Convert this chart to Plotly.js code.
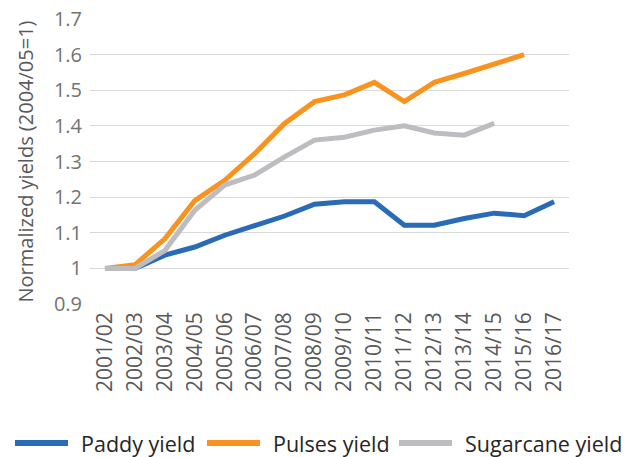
<!DOCTYPE html>
<html><head><meta charset="utf-8">
<script src="https://cdn.plot.ly/plotly-3.0.1.min.js"></script>
<style>body{margin:0;background:#fff}#c{width:631px;height:457px}</style>
</head><body><div id="c"></div>
<script>
const years = ["2001/02","2002/03","2003/04","2004/05","2005/06","2006/07","2007/08","2008/09","2009/10","2010/11","2011/12","2012/13","2013/14","2014/15","2015/16","2016/17"];
const paddy = [1.0,1.0,1.037,1.06,1.093,1.121,1.147,1.18,1.187,1.187,1.121,1.121,1.14,1.155,1.148,1.187];
const pulses = [1.0,1.01,1.083,1.19,1.247,1.322,1.407,1.468,1.487,1.522,1.468,1.522,1.547,1.574,1.6,null];
const sugarcane = [1.0,1.0,1.05,1.163,1.234,1.262,1.313,1.36,1.368,1.388,1.4,1.38,1.374,1.407,null,null];
const seriesNames = ["Paddy yield","Pulses yield","Sugarcane yield"];
const yTicks = [0.9,1,1.1,1.2,1.3,1.4,1.5,1.6,1.7];
const yTickText = ["0.9","1","1.1","1.2","1.3","1.4","1.5","1.6","1.7"];

const colors = ["#2a6bb8","#f7931e","#bdbdc1"];
const font = "'Open Sans', sans-serif";
const W = 631, H = 457, M = {l: 90, r: 62, t: 19, b: 153};
const pw = W - M.l - M.r, ph = H - M.t - M.b;
const px2x = p => (p - M.l) / pw;
const py2y = p => (H - M.b - p) / ph;

const mk = (name, y, color) => ({x: years, y: y, name: name, type: "scatter", mode: "lines",
  line: {color: color, width: 5}, connectgaps: false, showlegend: false});
const traces = [mk(seriesNames[0], paddy, colors[0]), mk(seriesNames[1], pulses, colors[1]), mk(seriesNames[2], sugarcane, colors[2])];

// legend drawn by hand (long swatches, as in the reference)
const legendRow = 443;
const swatchStart = [13, 205, 397];
const swatchLen = 57, textGap = 9;
const shapes = [], annotations = [];
seriesNames.forEach((n, i) => {
  shapes.push({type: "line", xref: "paper", yref: "paper",
    x0: px2x(swatchStart[i] + 2), x1: px2x(swatchStart[i] + swatchLen - 2), y0: py2y(legendRow), y1: py2y(legendRow),
    line: {color: colors[i], width: 6}});
  annotations.push({xref: "paper", yref: "paper", x: px2x(swatchStart[i] + swatchLen + textGap), y: py2y(legendRow),
    xanchor: "left", yanchor: "middle", showarrow: false, text: n,
    font: {size: 21.5, color: "#262626", family: font}});
});

Plotly.newPlot("c", traces, {
  width: W, height: H,
  margin: {l: M.l, r: M.r, t: M.t, b: M.b, autoexpand: false},
  paper_bgcolor: "#fff", plot_bgcolor: "#fff",
  font: {family: font, color: "#595959", size: 20},
  showlegend: false,
  xaxis: {type: "category", range: [-0.5, 15.5], tickangle: -90, showgrid: false, showline: false, ticks: "",
    tickfont: {size: 21, color: "#595959"}, ticklabelstandoff: 3, fixedrange: true},
  yaxis: {range: [0.9, 1.7], tickvals: yTicks, ticktext: yTickText, showgrid: true,
    gridcolor: "#d9d9d9", gridwidth: 1, zeroline: false, showline: false, ticks: "",
    tickfont: {size: 20, color: "#737373"}, ticklabelstandoff: 7,
    title: {text: "Normalized yields (2004/05=1)", font: {size: 20, color: "#595959"}, standoff: 14}},
  shapes: shapes,
  annotations: annotations
}, {staticPlot: true});
</script></body></html>
